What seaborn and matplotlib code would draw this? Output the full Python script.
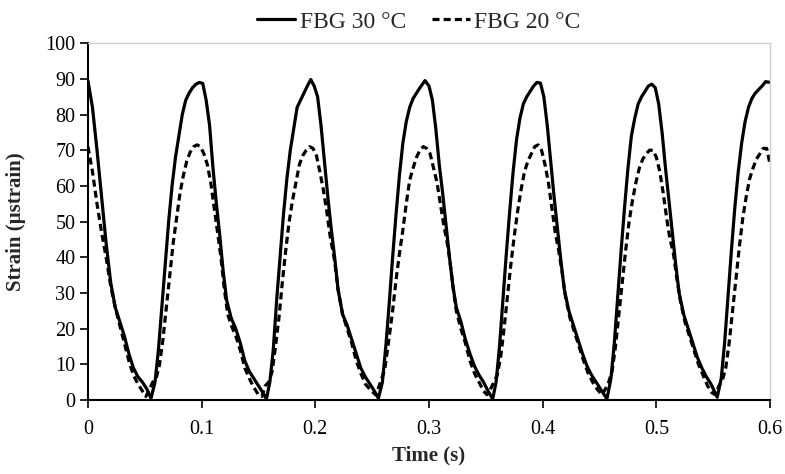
import matplotlib

matplotlib.use("Agg")
import matplotlib.pyplot as plt
import numpy as np
import pandas as pd
import seaborn as sns

# FBG 30 °C (solid)
T30 = [
    0.000, 0.004, 0.008, 0.012, 0.016, 0.020, 0.024, 0.028, 0.032, 0.036, 0.040, 0.044, 0.048, 0.052, 0.0555,
    0.059, 0.062, 0.065, 0.068, 0.071, 0.074, 0.077, 0.080, 0.083, 0.086, 0.089, 0.092, 0.095, 0.098, 0.101,
    0.104, 0.107, 0.110, 0.113, 0.116, 0.119, 0.122, 0.126, 0.130, 0.134, 0.138, 0.142, 0.146, 0.150, 0.154, 0.157,
    0.160, 0.163, 0.166, 0.169, 0.172, 0.175, 0.178, 0.181, 0.184, 0.187, 0.190, 0.193, 0.196,
    0.199, 0.202, 0.205, 0.208, 0.211, 0.214, 0.217, 0.220, 0.224, 0.228, 0.232, 0.236, 0.240, 0.244, 0.248, 0.252, 0.2555,
    0.259, 0.262, 0.265, 0.268, 0.271, 0.274, 0.277, 0.280, 0.283, 0.286, 0.289, 0.292, 0.2965,
    0.300, 0.303, 0.306, 0.309, 0.312, 0.315, 0.318, 0.321, 0.324, 0.328, 0.332, 0.336, 0.340, 0.344, 0.348, 0.352, 0.356,
    0.359, 0.362, 0.365, 0.368, 0.371, 0.374, 0.377, 0.380, 0.383, 0.386, 0.389, 0.392, 0.395, 0.398,
    0.401, 0.404, 0.407, 0.410, 0.413, 0.416, 0.419, 0.423, 0.427, 0.431, 0.435, 0.439, 0.443, 0.447, 0.451, 0.4565,
    0.460, 0.463, 0.466, 0.469, 0.472, 0.475, 0.478, 0.481, 0.484, 0.487, 0.490, 0.493, 0.496,
    0.499, 0.502, 0.505, 0.508, 0.511, 0.514, 0.517, 0.520, 0.524, 0.528, 0.532, 0.536, 0.540, 0.544, 0.548, 0.551, 0.5535,
    0.557, 0.560, 0.563, 0.566, 0.569, 0.572, 0.575, 0.578, 0.581, 0.584, 0.587, 0.590, 0.593, 0.596, 0.600,
]
S30 = [
    89.5, 82, 70, 57, 44, 33, 26, 22, 18, 13, 9, 6.5, 5, 3, 0.5,
    5, 14, 26, 38, 50, 60, 68, 74, 80, 84, 86, 87.5, 88.5, 89, 88.7,
    84, 77, 65, 55, 46, 36, 28, 23, 20, 16, 11, 8, 6, 4, 2, 0.3,
    5, 14, 28, 40, 52, 62, 70, 76, 82, 84, 86, 88, 89.8,
    88, 85, 77, 67, 57, 48, 40, 31, 24, 21, 17, 13, 9, 6.5, 4.5, 2.5, 0.5,
    5, 15, 27, 40, 52, 63, 72, 78, 82, 84.5, 86, 87.5, 89.5,
    88, 84, 76, 66, 58, 49, 40, 32, 26, 22, 17, 13, 9.5, 7, 5, 2.5, 0.3,
    5, 15, 28, 41, 53, 64, 73, 79, 83, 85, 86.5, 88, 89, 88.8,
    85, 77, 67, 57, 48, 39, 31, 25, 21, 17, 13, 9.5, 7, 5, 3, 0.3,
    6, 16, 29, 42, 54, 65, 74, 79, 83, 85, 86.5, 88, 88.5,
    87.5, 83, 75, 65, 56, 47, 38, 30, 24, 20, 16, 12, 9, 6.5, 4.5, 2.5, 0.8,
    6, 16, 29, 42, 54, 64, 72, 78, 82, 84.5, 86, 87, 88, 89.2, 89,
]

# FBG 20 °C (dashed)
T20 = [
    0.000, 0.004, 0.008, 0.012, 0.016, 0.020, 0.024, 0.028, 0.032, 0.036, 0.040, 0.044, 0.048, 0.051, 0.054, 0.057,
    0.060, 0.063, 0.066, 0.069, 0.072, 0.075, 0.078, 0.081, 0.084, 0.087, 0.090, 0.093, 0.096, 0.099,
    0.102, 0.105, 0.108, 0.111, 0.114, 0.117, 0.120, 0.123, 0.126, 0.130, 0.134, 0.138, 0.142, 0.146, 0.150, 0.153, 0.156, 0.159,
    0.162, 0.165, 0.168, 0.171, 0.174, 0.177, 0.180, 0.183, 0.186, 0.189, 0.192, 0.195, 0.198,
    0.201, 0.204, 0.207, 0.210, 0.213, 0.217, 0.220, 0.224, 0.228, 0.232, 0.236, 0.240, 0.244, 0.248, 0.2533, 0.257,
    0.261, 0.265, 0.268, 0.271, 0.274, 0.277, 0.280, 0.283, 0.286, 0.289, 0.292, 0.295, 0.298,
    0.301, 0.304, 0.307, 0.310, 0.313, 0.316, 0.318, 0.321, 0.324, 0.328, 0.332, 0.336, 0.340, 0.344, 0.348, 0.351, 0.354, 0.357,
    0.360, 0.363, 0.366, 0.369, 0.372, 0.375, 0.378, 0.381, 0.384, 0.387, 0.390, 0.393, 0.396, 0.399,
    0.402, 0.405, 0.408, 0.411, 0.414, 0.417, 0.420, 0.424, 0.428, 0.432, 0.436, 0.440, 0.444, 0.448, 0.452, 0.455, 0.458,
    0.461, 0.464, 0.467, 0.470, 0.473, 0.476, 0.479, 0.482, 0.485, 0.488, 0.491, 0.494, 0.497,
    0.500, 0.503, 0.506, 0.509, 0.512, 0.515, 0.518, 0.521, 0.525, 0.529, 0.533, 0.537, 0.541, 0.545, 0.549, 0.552, 0.555, 0.558,
    0.561, 0.564, 0.567, 0.570, 0.573, 0.576, 0.579, 0.582, 0.585, 0.588, 0.591, 0.594, 0.597, 0.600,
]
S20 = [
    71, 64, 55, 47, 40, 32, 26, 21, 16, 11, 7, 4.5, 2.5, 1, 3, 5,
    6, 10, 17, 26, 35, 44, 51, 58, 63, 67, 69.5, 71, 71.5, 71,
    69, 66, 61, 54, 47, 40, 31, 24, 21, 18, 14, 9, 6, 3.5, 1.5, 1, 4, 5,
    8, 15, 23, 33, 42, 50, 56, 61, 66, 68.5, 70, 71, 70.5,
    68.5, 64, 59, 53, 46, 39, 31, 24, 20, 16, 11, 7.5, 4.5, 3, 1.4, 4.8,
    8.4, 17.7, 25, 33.6, 41, 47.6, 55, 61.6, 65, 68, 70, 71, 70.5,
    69, 65, 61, 55, 49, 44, 40, 32, 25, 20, 16, 11, 7.5, 5, 2.5, 1.5, 3, 5,
    7, 12, 20, 29, 38, 46, 53, 59, 64, 67, 69, 71, 71.5, 70,
    66, 61, 54, 47, 42, 36, 29, 23, 19, 15, 11, 7.5, 5, 3, 1.5, 3, 5,
    8, 15, 24, 33, 42, 50, 56, 61, 65, 67.5, 69, 70, 70,
    68, 64, 58, 51, 45, 41, 34, 28, 22, 18, 14, 10, 7, 4, 2, 1.5, 4, 5.5,
    9, 16, 25, 34, 43, 51, 57, 62, 65, 67.5, 69, 70.5, 70.5, 66,
]

LABEL_30 = "FBG 30 °C"
LABEL_20 = "FBG 20 °C"
X_TICKS = [0, 0.1, 0.2, 0.3, 0.4, 0.5, 0.6]
X_TICK_LABELS = ["0", "0.1", "0.2", "0.3", "0.4", "0.5", "0.6"]
Y_TICKS = [0, 10, 20, 30, 40, 50, 60, 70, 80, 90, 100]


def main() -> None:
    sns.set_theme(style="white")
    plt.rcParams["font.family"] = ["Liberation Serif", "DejaVu Serif"]

    df30 = pd.DataFrame({"time": T30, "strain": S30})
    df20 = pd.DataFrame({"time": T20, "strain": S20})

    fig = plt.figure(figsize=(7.85, 4.74), dpi=100)
    ax = fig.add_axes([0.112, 0.156, 0.869, 0.753])

    sns.lineplot(data=df30, x="time", y="strain", color="black", lw=2.3, estimator=None,
                 sort=False, label=LABEL_30, ax=ax)
    sns.lineplot(data=df20, x="time", y="strain", color="black", lw=2.3, estimator=None,
                 sort=False, label=LABEL_20, ax=ax)
    ax.lines[1].set_dashes([2.2, 1.3])

    ax.set_xlim(0, 0.6)
    ax.set_ylim(0, 100)
    ax.set_xticks(X_TICKS)
    ax.set_xticklabels(X_TICK_LABELS)
    ax.set_yticks(Y_TICKS)
    ax.tick_params(axis="both", labelsize=14.5, colors="black", length=6, width=1.2,
                   direction="out", bottom=True, left=True)
    ax.tick_params(axis="x", pad=8)
    ax.tick_params(axis="y", pad=3)
    ax.set_xlabel("Time (s)", fontsize=15, fontweight="bold", labelpad=5)
    ax.set_ylabel("Strain (µstrain)", fontsize=15, fontweight="bold", labelpad=14)

    for side in ("left", "bottom"):
        ax.spines[side].set_color("black")
        ax.spines[side].set_linewidth(1.5)
    for side in ("top", "right"):
        ax.spines[side].set_color("#d0d0d0")
        ax.spines[side].set_linewidth(1.0)
    ax.grid(False)

    leg = ax.legend(loc="lower center", bbox_to_anchor=(0.485, 1.0), ncol=2, frameon=False,
                    fontsize=17, handlelength=1.6, columnspacing=1.1, handletextpad=0.2,
                    borderaxespad=0.05)
    for line in leg.get_lines():
        line.set_linewidth(2.3)

    fig.savefig("out.png", dpi=100)
    plt.close(fig)


if __name__ == "__main__":
    main()
